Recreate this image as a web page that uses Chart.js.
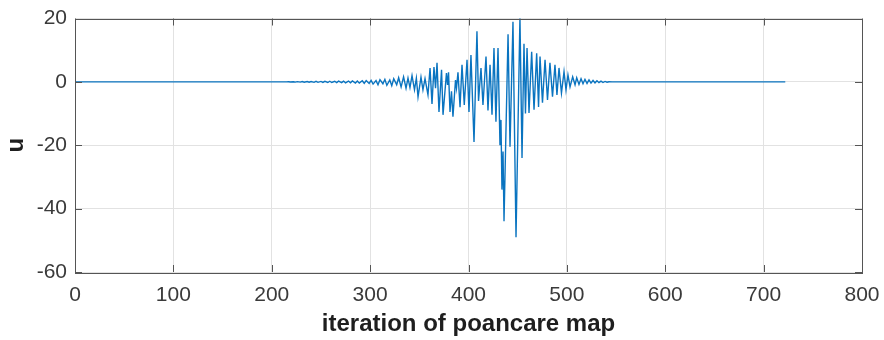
<!DOCTYPE html>
<html>
<head>
<meta charset="utf-8">
<script src="https://cdn.jsdelivr.net/npm/chart.js@4.4.1/dist/chart.umd.min.js"></script>
<style>
  html, body { margin: 0; padding: 0; background: #ffffff; }
  #wrap { width: 884px; height: 340px; }
</style>
</head>
<body>
<div id="wrap"><canvas id="c" width="884" height="340"></canvas></div>
<script>
// ---- data (iteration index, u value at turning points) ----
const iterations = [
  0, 215, 217, 219, 222, 224, 226, 229, 231, 233, 236, 238, 240, 243, 245, 247, 250, 252, 254, 257,
  259, 261, 264, 266, 268, 271, 273, 275, 278, 280, 282, 285, 287, 289, 292, 294, 296, 299, 301,
  303, 306, 308, 310, 313, 315, 317, 320, 322, 324, 327, 329, 331.5, 334, 336.5, 338.5, 340.5, 342.6, 345.1, 347, 348.7,
  351.7, 353.7, 355.8, 358.8, 360.9, 362.9, 364.9, 366.5, 368.0, 370.0, 372.6, 374.1, 377.6, 378.7, 379.7, 381.2, 382.7, 384.2, 386.8, 387.8,
  389.3, 391.4, 393.4, 395.7, 398.5, 400.5, 402.5, 405.6, 408.6, 410.2, 412.7, 414.7, 417.8, 419.8, 421.9, 423.9, 425.9, 427.9, 430.0, 432.0,
  433.0, 434.0, 435.1, 436.1, 440.2, 442.2, 445.2, 448.3, 452.3, 454.4, 456.4, 457.9, 459.5, 461.5, 464.2, 466.6, 469.3, 471.2, 472.7, 475.2,
  477.8, 480.3, 482.8, 485.4, 487.9, 489.9, 492.0, 494.5, 497.1, 499.1, 501.1, 503.2, 505.9, 508.3, 510.0, 512.3, 514.4, 516.4, 518.4, 520.5,
  522.5, 524.5, 526.6, 528.6, 530.6, 532.6, 534.7, 536.7, 538.8, 540.8, 542.8, 545.9, 722
];
const uValues = [
  0, 0, 0.05, -0.05, 0.05, -0.07, 0.07, -0.08, 0.1, -0.1, 0.1, -0.12, 0.12, -0.15, 0.15, -0.15, 0.15, -0.18, 0.18, -0.2,
  0.2, -0.2, 0.2, -0.25, 0.22, -0.25, 0.25, -0.3, 0.25, -0.3, 0.3, -0.35, 0.3, -0.4, 0.35, -0.45, 0.4, -0.5, 0.45,
  -0.7, 0.4, -0.9, 0.7, -0.6, 0.8, -1.1, 0.6, -1.2, 1.0, -0.9, 1.3, -1.6, 1.6, -2.0, 1.2, -1.8, 2.0, -2.5, 1.2, -4.7,
  1.5, -2.5, 1.0, -4.1, 4.4, -7, 4.7, -2, 6, -9.5, 3.8, -10.4, 2.8, -1, 3.0, -9.5, -3, -11, 0.6, -2,
  3, -8, 5.4, -7.3, 7, -9.5, 8.5, -19, 16, -6, 4.4, -7.3, 8, -9, 5.4, -10.4, 10.7, -12.6, 10.7, -20,
  -12, -34, -22, -44, 15, -20.5, 19, -49, 20.5, -24, 12, -10, 10.7, -9.8, 9.5, -8.8, 9, -7.9, 8, -6.6,
  7, -5.7, 6, -4.7, 5.4, -4.1, 4.4, -3.5, 3.2, -2.5, 2.2, -1.6, 1.6, -0.9, 1.3, -0.8, 1.0, -0.6, 0.8, -0.5,
  0.6, -0.4, 0.45, -0.3, 0.35, -0.25, 0.25, -0.2, 0.15, -0.1, 0.05, 0, 0
];
const xTicks = [0, 100, 200, 300, 400, 500, 600, 700, 800];
const yTicks = [-60, -40, -20, 0, 20];
const xTitle = 'iteration of poancare map';
const yTitle = 'u';

if (iterations.length !== uValues.length) console.error('length mismatch', iterations.length, uValues.length);

const points = iterations.map((x, i) => ({ x: x, y: uValues[i] }));

const FONT = "'Liberation Sans', Arial, Helvetica, sans-serif";
const AXIS_COLOR = '#555555';

const boxPlugin = {
  id: 'matlabBox',
  afterDatasetsDraw(chart) {
    const { ctx, chartArea: a, scales } = chart;
    const L = 7;
    ctx.save();
    ctx.strokeStyle = AXIS_COLOR;
    ctx.lineWidth = 1;
    ctx.beginPath();
    xTicks.forEach(v => {
      const px = Math.round(scales.x.getPixelForValue(v)) + 0.5;
      ctx.moveTo(px, a.bottom); ctx.lineTo(px, a.bottom - L);
      ctx.moveTo(px, a.top); ctx.lineTo(px, a.top + L);
    });
    yTicks.forEach(v => {
      const py = Math.round(scales.y.getPixelForValue(v)) + 0.5;
      ctx.moveTo(a.left, py); ctx.lineTo(a.left + L, py);
      ctx.moveTo(a.right, py); ctx.lineTo(a.right - L, py);
    });
    ctx.stroke();
    ctx.strokeRect(Math.round(a.left) + 0.5, Math.round(a.top) + 0.5,
                   Math.round(a.right - a.left), Math.round(a.bottom - a.top));
    ctx.restore();
  }
};

new Chart(document.getElementById('c'), {
  type: 'scatter',
  data: {
    datasets: [{
      data: points,
      showLine: true,
      borderColor: '#0a74c0',
      borderWidth: 1.4,
      pointRadius: 0,
      pointHoverRadius: 0,
      tension: 0,
      fill: false
    }]
  },
  options: {
    responsive: false,
    devicePixelRatio: 1,
    animation: false,
    events: [],
    layout: { padding: { top: 18.5, right: 22, bottom: 0, left: 0 } },
    plugins: { legend: { display: false }, tooltip: { enabled: false } },
    scales: {
      x: {
        type: 'linear',
        min: 0, max: 800,
        afterBuildTicks: (s) => { s.ticks = xTicks.map(v => ({ value: v })); },
        afterFit: (s) => { s.height = 68; s.paddingLeft = 0; s.paddingRight = 0; },
        grid: { color: '#e2e2e2', drawTicks: false, lineWidth: 1 },
        border: { display: false },
        ticks: { padding: 11, color: '#3a3a3a', font: { family: FONT, size: 21 }, maxRotation: 0, autoSkip: false },
        title: { display: true, text: xTitle, color: '#1e1e1e', font: { family: FONT, size: 24, weight: 'bold' }, padding: { top: 0, bottom: 1 } }
      },
      y: {
        type: 'linear',
        min: -60, max: 20,
        afterBuildTicks: (s) => { s.ticks = yTicks.map(v => ({ value: v })); },
        afterFit: (s) => { s.width = 75; s.paddingTop = 0; s.paddingBottom = 0; },
        grid: { color: '#e2e2e2', drawTicks: false, lineWidth: 1 },
        border: { display: false },
        ticks: { padding: 8, color: '#3a3a3a', font: { family: FONT, size: 21 } },
        title: { display: true, text: yTitle, color: '#1e1e1e', font: { family: FONT, size: 24, weight: 'bold' }, padding: { top: 2, bottom: 0 } }
      }
    }
  },
  plugins: [boxPlugin]
});
</script>
</body>
</html>
